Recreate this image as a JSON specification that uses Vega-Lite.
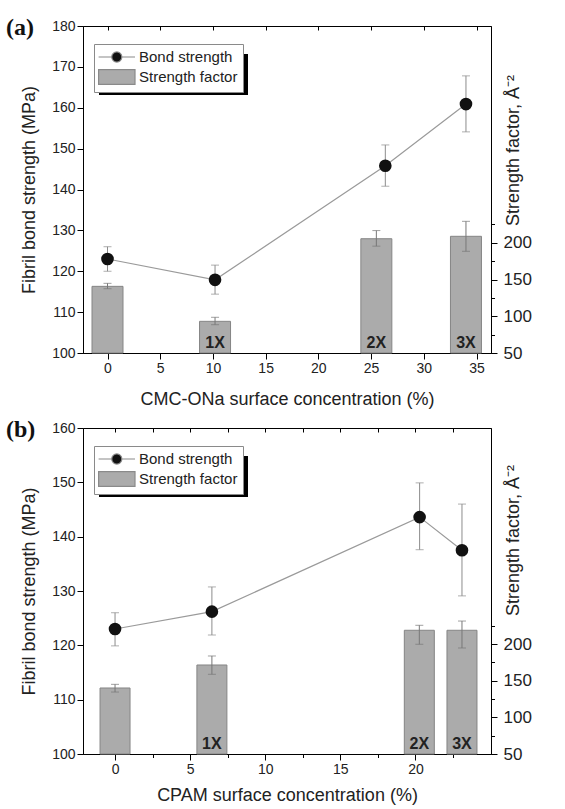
{
  "$schema": "https://vega.github.io/schema/vega-lite/v6.json",
  "padding": {"left": 5, "top": 15, "right": 0, "bottom": 0},
  "background": "white",
  "config": {
    "font": "Liberation Sans",
    "view": {"stroke": "#000", "strokeWidth": 1},
    "axis": {"domainColor": "#000", "tickColor": "#000", "labelColor": "#222", "titleColor": "#222", "labelFontSize": 14, "titleFontSize": 18, "titleFontWeight": "normal", "grid": false, "labelFont": "Liberation Sans", "titleFont": "Liberation Sans", "format": "d"},
    "title": {"font": "Liberation Serif", "fontSize": 24, "fontWeight": "bold", "color": "#111", "anchor": "start", "frame": "group"},
    "legend": {"orient": "none", "legendX": 11, "legendY": 18, "title": null, "strokeColor": "#8a8a8a", "fillColor": "#ffffff", "padding": 5, "labelFontSize": 15, "labelFont": "Liberation Sans", "labelColor": "#222", "symbolSize": 196, "symbolStrokeWidth": 1.2, "labelOffset": 24, "rowPadding": 2}
  },
  "datasets": {
    "a_pts": [
      {"x": 0, "v": 123, "lo": 120, "hi": 126},
      {"x": 10.2, "v": 117.9, "lo": 114.4, "hi": 121.5},
      {"x": 26.35, "v": 145.8, "lo": 140.8, "hi": 150.9},
      {"x": 34.0, "v": 160.9, "lo": 154.1, "hi": 167.8}
    ],
    "a_bars": [
      {"x": 0, "v": 140.7, "lo": 137.5, "hi": 144.8, "label": ""},
      {"x": 10.2, "v": 93.1, "lo": 88.5, "hi": 98.6, "label": "1X"},
      {"x": 25.5, "v": 205.5, "lo": 195.4, "hi": 216.6, "label": "2X"},
      {"x": 34.0, "v": 208.8, "lo": 188.4, "hi": 229.2, "label": "3X"}
    ],
    "b_pts": [
      {"x": 0, "v": 123, "lo": 119.9, "hi": 126},
      {"x": 6.45, "v": 126.2, "lo": 121.9, "hi": 130.75},
      {"x": 20.28, "v": 143.6, "lo": 137.6, "hi": 149.9},
      {"x": 23.1, "v": 137.5, "lo": 129.1, "hi": 146}
    ],
    "b_bars": [
      {"x": 0, "v": 140.1, "lo": 134.6, "hi": 145.1, "label": ""},
      {"x": 6.45, "v": 171.5, "lo": 158.8, "hi": 183.8, "label": "1X"},
      {"x": 20.26, "v": 218.9, "lo": 199.8, "hi": 225.7, "label": "2X"},
      {"x": 23.1, "v": 218.9, "lo": 194.7, "hi": 231.5, "label": "3X"}
    ]
  },
  "spacing": 8,
  "resolve": {"scale": {"fill": "independent", "shape": "independent", "stroke": "independent", "color": "independent"}},
  "vconcat": [
    {
      "width": 408,
      "height": 327,
      "title": {"text": "(a)", "dx": -77, "dy": 14, "offset": -26, "baseline": "alphabetic"},
      "resolve": {"scale": {"y": "independent"}, "axis": {"x": "independent"}},
      "layer": [
        {
          "data": {"name": "a_bars"},
          "layer": [
            {
              "mark": {"type": "bar", "size": 31, "fill": "#ababab", "stroke": "#858585", "strokeWidth": 1},
              "encoding": {
                "x": {"field": "x", "type": "quantitative", "scale": {"domain": [-1.85, 35.9], "nice": false, "zero": false},
                  "axis": {"orient": "bottom", "values": [0, 2.5, 5, 7.5, 10, 12.5, 15, 17.5, 20, 22.5, 25, 27.5, 30, 32.5, 35],
                    "labelExpr": "datum.value % 5 === 0 ? datum.label : ''",
                    "tickSize": {"condition": {"test": "datum && datum.value % 5 === 0", "value": 6}, "value": 3.5},
                    "labelPadding": 2, "title": "CMC-ONa surface concentration (%)", "titlePadding": 15}},
                "y": {"field": "v", "type": "quantitative", "scale": {"domain": [50, 495], "nice": false, "zero": false},
                  "axis": {"orient": "right", "values": [50, 75, 100, 125, 150, 175, 200, 225],
                    "labelExpr": "datum.value % 50 === 0 ? datum.label : ''",
                    "tickSize": {"condition": {"test": "datum && datum.value % 50 === 0", "value": 6}, "value": 3.5},
                    "labelPadding": 6, "labelFontSize": 17,
                    "title": "Strength factor, Å⁻²", "titleAngle": 270, "titleX": 22, "titleY": 124, "titleAlign": "center", "titleBaseline": "middle"}},
                "y2": {"datum": 50}
              }
            },
            {
              "mark": {"type": "errorbar", "ticks": true, "color": "#777777", "thickness": 1, "size": 8},
              "encoding": {
                "x": {"field": "x", "type": "quantitative", "title": "CMC-ONa surface concentration (%)"},
                "y": {"field": "lo", "type": "quantitative", "title": "Strength factor, Å⁻²"},
                "y2": {"field": "hi"}
              }
            },
            {
              "mark": {"type": "text", "fontWeight": "bold", "fontSize": 16, "baseline": "alphabetic", "dy": -5, "color": "#222", "font": "Liberation Sans"},
              "encoding": {
                "x": {"field": "x", "type": "quantitative", "title": "CMC-ONa surface concentration (%)"},
                "y": {"datum": 50, "title": "Strength factor, Å⁻²"},
                "text": {"field": "label"}
              }
            }
          ]
        },
        {
          "data": {"name": "a_pts"},
          "layer": [
            {
              "mark": {"type": "errorbar", "ticks": true, "color": "#8c8c8c", "thickness": 1, "size": 8},
              "encoding": {
                "x": {"field": "x", "type": "quantitative", "title": null},
                "y": {"field": "lo", "type": "quantitative", "title": "Fibril bond strength (MPa)"},
                "y2": {"field": "hi"}
              }
            },
            {
              "mark": {"type": "line", "color": "#9a9a9a", "strokeWidth": 1.2},
              "encoding": {
                "x": {"field": "x", "type": "quantitative", "title": null,
                  "axis": {"orient": "top", "values": [0, 2.5, 5, 7.5, 10, 12.5, 15, 17.5, 20, 22.5, 25, 27.5, 30, 32.5, 35], "labels": false, "domain": false, "title": null,
                    "tickSize": 4, "offset": -4}},
                "y": {"field": "v", "type": "quantitative", "scale": {"domain": [100, 180], "nice": false, "zero": false}, "title": "Fibril bond strength (MPa)",
                  "axis": {"orient": "left", "values": [100, 105, 110, 115, 120, 125, 130, 135, 140, 145, 150, 155, 160, 165, 170, 175, 180],
                    "labelExpr": "datum.value % 10 === 0 ? datum.label : ''",
                    "tickSize": {"condition": {"test": "datum && datum.value % 10 === 0", "value": 6}, "value": 3.5},
                    "labelPadding": 2, "title": "Fibril bond strength (MPa)", "titlePadding": 13}}
              }
            },
            {
              "mark": {"type": "point", "filled": true, "size": 160, "color": "#111111", "opacity": 1, "shape": "circle"},
              "encoding": {
                "x": {"field": "x", "type": "quantitative", "title": null},
                "y": {"field": "v", "type": "quantitative", "title": "Fibril bond strength (MPa)"}
              }
            },
            {
              "transform": [{"filter": "false"}],
              "mark": {"type": "point", "filled": true, "opacity": 1},
              "encoding": {
                "color": {"datum": 0.5, "type": "quantitative", "scale": {"domain": [0, 1], "range": ["#000000", "#000000"]},
                  "legend": {"type": "gradient", "direction": "horizontal", "gradientLength": 149, "gradientThickness": 41, "gradientStrokeWidth": 0, "labelExpr": "''", "title": null, "padding": 0, "strokeColor": "transparent", "fillColor": "transparent", "legendX": 16, "legendY": 28}}
              }
            },
            {
              "transform": [{"filter": "false"}],
              "mark": {"type": "point", "filled": false, "opacity": 1, "strokeWidth": 1.2},
              "encoding": {
                "fill": {"datum": "Bond strength", "scale": {"domain": ["Bond strength", "Strength factor"], "range": ["#111111", "#ababab"]}},
                "stroke": {"datum": "Bond strength", "scale": {"domain": ["Bond strength", "Strength factor"], "range": ["#8a8a8a", "#8a8a8a"]}},
                "shape": {"datum": "Bond strength", "scale": {"domain": ["Bond strength", "Strength factor"], "range": ["M-1.2,0H0.68M2.12,0H4.0M0.68,0A0.72,0.72 0 1,0 2.12,0A0.72,0.72 0 1,0 0.68,0Z", "M-1.2,-1.05H4.0V1.05H-1.2Z"]}}
              }
            }
          ]
        }
      ]
    },
    {
      "width": 408,
      "height": 326,
      "title": {"text": "(b)", "dx": -77, "dy": 14, "offset": -26, "baseline": "alphabetic"},
      "resolve": {"scale": {"y": "independent"}, "axis": {"x": "independent"}},
      "layer": [
        {
          "data": {"name": "b_bars"},
          "layer": [
            {
              "mark": {"type": "bar", "size": 30, "fill": "#ababab", "stroke": "#858585", "strokeWidth": 1},
              "encoding": {
                "x": {"field": "x", "type": "quantitative", "scale": {"domain": [-1.8, 24.7], "nice": false, "zero": false},
                  "axis": {"orient": "bottom", "values": [0, 2.5, 5, 7.5, 10, 12.5, 15, 17.5, 20, 22.5],
                    "labelExpr": "datum.value % 5 === 0 ? datum.label : ''",
                    "tickSize": {"condition": {"test": "datum && datum.value % 5 === 0", "value": 6}, "value": 3.5},
                    "labelPadding": 2, "title": "CPAM surface concentration (%)", "titlePadding": 10}},
                "y": {"field": "v", "type": "quantitative", "scale": {"domain": [50, 495], "nice": false, "zero": false},
                  "axis": {"orient": "right", "values": [50, 75, 100, 125, 150, 175, 200, 225],
                    "labelExpr": "datum.value % 50 === 0 ? datum.label : ''",
                    "tickSize": {"condition": {"test": "datum && datum.value % 50 === 0", "value": 6}, "value": 3.5},
                    "labelPadding": 6, "labelFontSize": 17,
                    "title": "Strength factor, Å⁻²", "titleAngle": 270, "titleX": 22, "titleY": 112, "titleAlign": "center", "titleBaseline": "middle"}},
                "y2": {"datum": 50}
              }
            },
            {
              "mark": {"type": "errorbar", "ticks": true, "color": "#777777", "thickness": 1, "size": 8},
              "encoding": {
                "x": {"field": "x", "type": "quantitative", "title": "CPAM surface concentration (%)"},
                "y": {"field": "lo", "type": "quantitative", "title": "Strength factor, Å⁻²"},
                "y2": {"field": "hi"}
              }
            },
            {
              "mark": {"type": "text", "fontWeight": "bold", "fontSize": 16, "baseline": "alphabetic", "dy": -5, "color": "#222", "font": "Liberation Sans"},
              "encoding": {
                "x": {"field": "x", "type": "quantitative", "title": "CPAM surface concentration (%)"},
                "y": {"datum": 50, "title": "Strength factor, Å⁻²"},
                "text": {"field": "label"}
              }
            }
          ]
        },
        {
          "data": {"name": "b_pts"},
          "layer": [
            {
              "mark": {"type": "errorbar", "ticks": true, "color": "#8c8c8c", "thickness": 1, "size": 8},
              "encoding": {
                "x": {"field": "x", "type": "quantitative", "title": null},
                "y": {"field": "lo", "type": "quantitative", "title": "Fibril bond strength (MPa)"},
                "y2": {"field": "hi"}
              }
            },
            {
              "mark": {"type": "line", "color": "#9a9a9a", "strokeWidth": 1.2},
              "encoding": {
                "x": {"field": "x", "type": "quantitative", "title": null,
                  "axis": {"orient": "top", "values": [0, 2.5, 5, 7.5, 10, 12.5, 15, 17.5, 20, 22.5], "labels": false, "domain": false, "title": null,
                    "tickSize": 4, "offset": -4}},
                "y": {"field": "v", "type": "quantitative", "scale": {"domain": [100, 160], "nice": false, "zero": false}, "title": "Fibril bond strength (MPa)",
                  "axis": {"orient": "left", "values": [100, 105, 110, 115, 120, 125, 130, 135, 140, 145, 150, 155, 160],
                    "labelExpr": "datum.value % 10 === 0 ? datum.label : ''",
                    "tickSize": {"condition": {"test": "datum && datum.value % 10 === 0", "value": 6}, "value": 3.5},
                    "labelPadding": 2, "title": "Fibril bond strength (MPa)", "titlePadding": 13}}
              }
            },
            {
              "mark": {"type": "point", "filled": true, "size": 160, "color": "#111111", "opacity": 1, "shape": "circle"},
              "encoding": {
                "x": {"field": "x", "type": "quantitative", "title": null},
                "y": {"field": "v", "type": "quantitative", "title": "Fibril bond strength (MPa)"}
              }
            },
            {
              "transform": [{"filter": "false"}],
              "mark": {"type": "point", "filled": true, "opacity": 1},
              "encoding": {
                "color": {"datum": 0.5, "type": "quantitative", "scale": {"domain": [0, 1], "range": ["#000000", "#000000"]},
                  "legend": {"type": "gradient", "direction": "horizontal", "gradientLength": 149, "gradientThickness": 41, "gradientStrokeWidth": 0, "labelExpr": "''", "title": null, "padding": 0, "strokeColor": "transparent", "fillColor": "transparent", "legendX": 16, "legendY": 28}}
              }
            },
            {
              "transform": [{"filter": "false"}],
              "mark": {"type": "point", "filled": false, "opacity": 1, "strokeWidth": 1.2},
              "encoding": {
                "fill": {"datum": "Bond strength", "scale": {"domain": ["Bond strength", "Strength factor"], "range": ["#111111", "#ababab"]}},
                "stroke": {"datum": "Bond strength", "scale": {"domain": ["Bond strength", "Strength factor"], "range": ["#8a8a8a", "#8a8a8a"]}},
                "shape": {"datum": "Bond strength", "scale": {"domain": ["Bond strength", "Strength factor"], "range": ["M-1.2,0H0.68M2.12,0H4.0M0.68,0A0.72,0.72 0 1,0 2.12,0A0.72,0.72 0 1,0 0.68,0Z", "M-1.2,-1.05H4.0V1.05H-1.2Z"]}}
              }
            }
          ]
        }
      ]
    }
  ]
}
